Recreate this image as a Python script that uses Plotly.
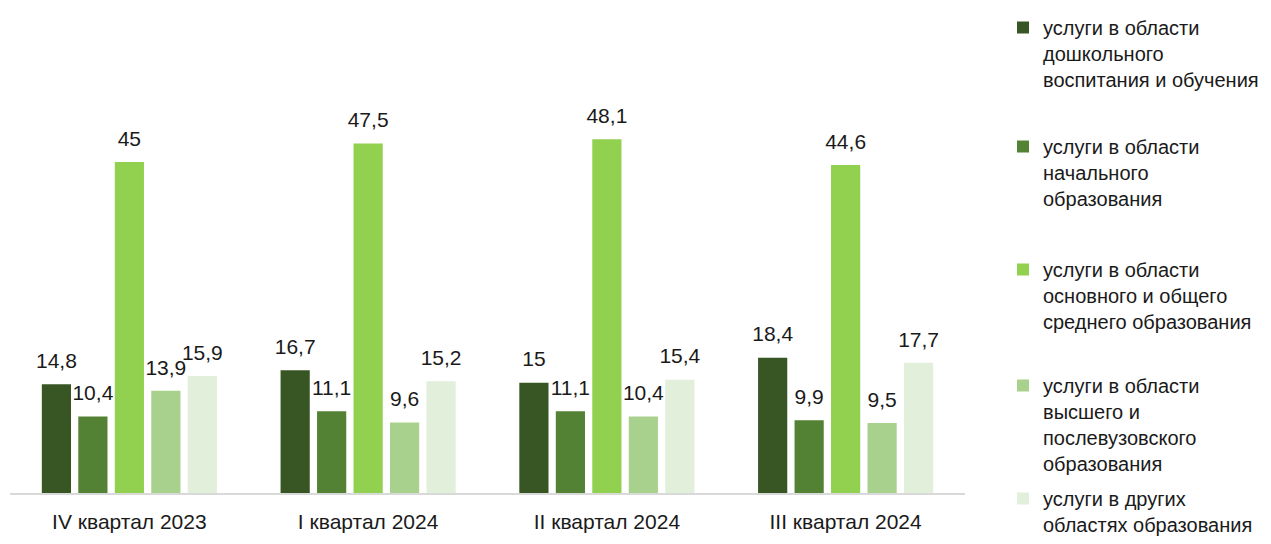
import plotly.graph_objects as go

categories = ["IV квартал 2023", "I квартал 2024", "II квартал 2024", "III квартал 2024"]
series_names = [
    "услуги в области<br>дошкольного<br>воспитания и обучения",
    "услуги в области<br>начального<br>образования",
    "услуги в области<br>основного и общего<br>среднего образования",
    "услуги в области<br>высшего и<br>послевузовского<br>образования",
    "услуги в других<br>областях образования",
]
preschool = [14.8, 16.7, 15.0, 18.4]
primary = [10.4, 11.1, 11.1, 9.9]
secondary = [45.0, 47.5, 48.1, 44.6]
higher = [13.9, 9.6, 10.4, 9.5]
other = [15.9, 15.2, 15.4, 17.7]
colors = ["#375623", "#548235", "#92D050", "#A9D18E", "#E2EFDA"]

values = [preschool, primary, secondary, higher, other]
legend_ids = ["legend", "legend2", "legend3", "legend4", "legend5"]
# (y, anchor) in container coordinates for each legend block
legend_pos = [(1.0, "top"), (1 - 119 / 536, "top"), (1 - 242 / 536, "top"),
              (1 - 358 / 536, "top"), (0.0, "bottom")]

W, H = 1263, 536
FONT = "Liberation Sans, Arial, sans-serif"
TXT = "#1a1a1a"

def fmt(v):
    return ("%g" % v).replace(".", ",")

fig = go.Figure()
for i, (name, vals, col, lid) in enumerate(zip(series_names, values, colors, legend_ids)):
    fig.add_trace(go.Bar(
        x=categories, y=vals, name=name,
        marker=dict(color=col, line=dict(width=0)),
        offsetgroup=str(i),
        legend=lid, hoverinfo="skip",
    ))
for i, vals in enumerate(values):
    fig.add_trace(go.Scatter(
        x=categories, y=vals, mode="markers+text",
        text=[fmt(v) for v in vals], textposition="top center",
        textfont=dict(size=21, color=TXT, family=FONT),
        marker=dict(size=16, color="rgba(0,0,0,0)"),
        offsetgroup=str(i), showlegend=False, hoverinfo="skip",
        cliponaxis=False,
    ))

layout_legends = {}
for lid, (ly, anchor) in zip(legend_ids, legend_pos):
    layout_legends[lid] = dict(
        xref="container", yref="container",
        x=995 / W, y=ly,
        xanchor="left", yanchor=anchor,
        font=dict(size=20, color=TXT, family=FONT),
        valign="top", bgcolor="rgba(0,0,0,0)",
        itemwidth=30,
    )

fig.update_layout(
    width=W, height=H,
    margin=dict(l=2, r=306, t=12, b=51, autoexpand=False),
    paper_bgcolor="white", plot_bgcolor="white",
    barmode="group", bargap=0.236, bargroupgap=0.2,
    scattermode="group", scattergap=0.236,
    font=dict(family=FONT, size=21, color=TXT),
    showlegend=True,
    xaxis=dict(showline=True, linecolor="#D9D9D9", linewidth=2, ticks="",
               ticklabelstandoff=9,
               tickfont=dict(size=21, color=TXT)),
    yaxis=dict(range=[0, 64.3], visible=False, showgrid=False, zeroline=False),
    **layout_legends,
)

fig.write_html("out.html")
